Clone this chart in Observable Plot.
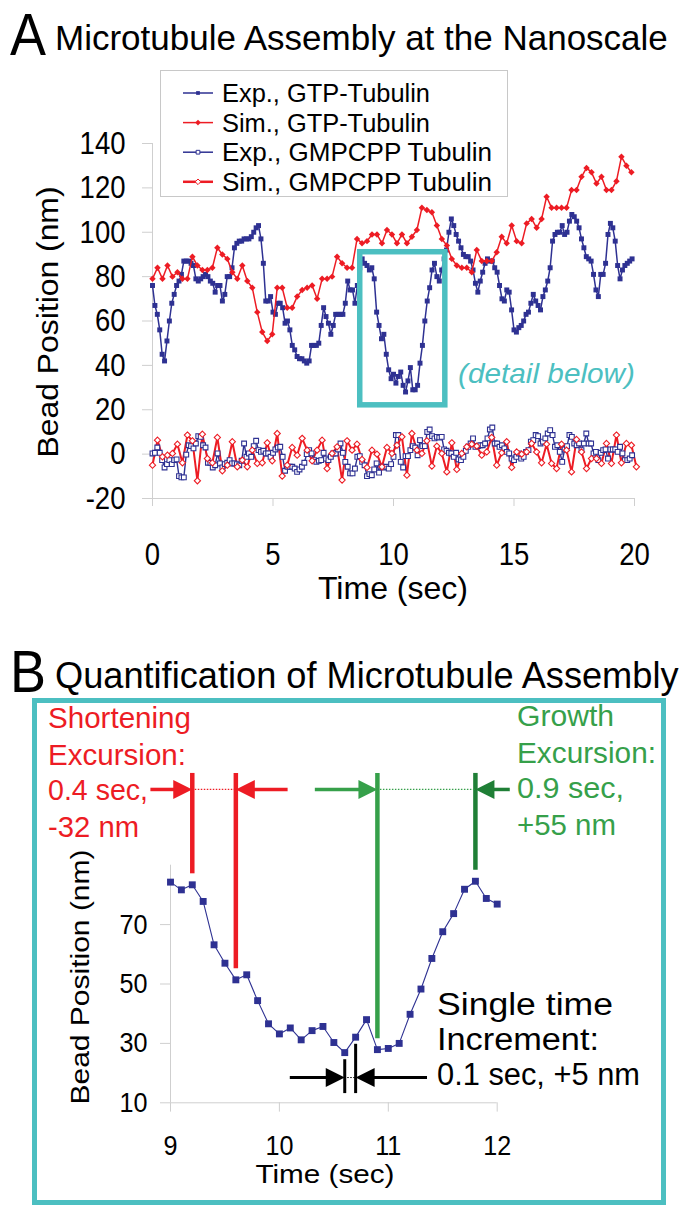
<!DOCTYPE html>
<html><head><meta charset="utf-8">
<script src="https://cdn.jsdelivr.net/npm/d3@7"></script>
<script src="https://cdn.jsdelivr.net/npm/@observablehq/plot@0.6"></script>
<style>
body{margin:0;background:#fff;}
#page{position:relative;width:700px;height:1219px;overflow:hidden;background:#fff;}
</style></head><body><div id="page"></div>
<script>
// ---------------- DATA ----------------
const expStep = 0.1;      // sec per experimental sample
const simStep = 0.207;    // sec per simulation sample
const expGTP = [76,67,63,56,45,42,51,60,68,72, 76,78,81,87,87,87,86,85,79,78, 79,80,81,80,78,77,73,76,76,69, 72,80,80,84,93,95,96,96,97,97,
 97,98,100,102,103,97,86,69,69,71, 64,63,68,68,66,59,60,56,49,47, 44,43,43,42,41,42,49,49,49,50, 58,66,62,59,54,58,63,63,63,63,
 68,78,74,74,68,76,84,88,86,85, 83,84,79,64,58,52,54,45,38,34, 36,32,35,37,31,28,33,39,29,29, 31,41,49,60,69,75,83,86,80,78,
 83,88,92,100,106,103,99,96,93,90, 89,89,87,83,77,73,78,82,86,88, 87,87,84,82,76,70,69,74,73,65, 56,55,57,58,60,63,64,68,72,69,
 67,65,71,74,78,84,96,99,100,100, 103,99,100,105,108,107,105,102,97,93, 89,88,87,81,74,71,81,81,86,99, 104,102,96,85,79,83,85,86,87,88];
const simGTP = [79,84,79,85,80,82,79,79,89,85, 83,83,84,93,90,88,82,79,85,78, 75,64,55,51,54,75,75,66,66,71, 74,75,76,70,79,79,80,89,86,84,
 84,97,95,96,99,99,95,101,99,95, 99,95,98,101,111,110,109,103,97,94, 88,85,84,84,82,92,87,87,87,91, 98,95,103,96,95,104,106,102,106,116,
 111,111,111,111,119,119,125,129,127,122, 125,119,119,123,134,130,127];
const expGMPCPP = [0.3,0.6,3,0.6,-2.7,-6,-4.5,-2.7,-4.5,-2.7, -2.4,-9.9,-10.5,-10.5,-0.2,4,3.6,2.6,4.8,8.1, 7.8,4,3,-3.9,-3.9,-6,-5,0.3,-4.2,-6,
 -4.5,-3.9,-2.7,-4.2,-4.2,-4.5,-5,-3,4.8,-1.2, 0.3,-1.2,3.6,6,1.8,1,1.5,0.3,0.3,-1.2, 0.6,2.1,3,3.3,-1.2,-7.5,-5.7,-5.7,-5.7,-6.5,
 -8,-6.9,-5.7,-3.9,0,1.8,0.3,-2.7,-3.5,-3, -2.7,0.6,-2,-2.7,-1.2,0.3,0.3,2.1,4.8,0.6, -3.5,-5.7,-8.7,-8.7,-6.5,-1.2,-0.9,-3.5,-5,-9.9,
 -9,-9.5,-6.9,-4.2,-8.3,-5.7,-6,-5.7,-6.5,-4.5,
 -1.2,8.6,8.6,-3.5,-6,-0.9,-0.9,1.8,3.6,3, -0.5,6.3,3.6,3.6,10,11.1,8.1,7.1,7.8,7.5, 7.8,2.1,1.5,0.6,0.3,-1.2,0.6,-2.4,-2.7,-1.2,
 1.5,3.3,4.8,7.1,3.3,3.6,4,4,4.8,7.1, 11.1,12,4.8,4.8,3.3,4,2.6,1,0.3,-2, -2.7,-1.2,0.3,-2,-1.2,1,1.8,5.6,6.3,8.6,
 8.1,4.8,5.6,7.1,9.3,10.8,8.6,3.3,4,1, -3.5,2.1,3.6,8.6,7.8,4.8,4,4.8,1.8,4.8, 9.3,4.8,4.8,0.3,1,-2.7,0.6,1.8,2.1,-2,
 2.1,2.1,2.1,1,3.3,0.3,-2.7,-2.7,-2,-0.5];
const simGMPCPP = [-5,6.3,-1.2,-0.5,0.3,4.5,-3.9,8.6,6,-12, 9,-2,-3.9,7.5,-7.5,-5,5.6,-5.7,-2.7,-5.7, 1.8,-4.2,-3.9,5.1,-3,9.3,-9.9,-5,3,-0.5,
 7.1,1.8,-3,1.8,6.3,-6.5,0.3,3.3,-11.7,6, 1.8,4.5,-2.4,-6,1.8,0,-5.7,3,
 0.3,4,7.8,-9.5,9.3,1.8,0.3,6,-5.4,3.6, 0.3,-8,5.1,-6.9,0.3,3.3,4.5,3.6,-0.5,1, 7.5,-5,0.6,5.6,-6,1,0,1,4.8,1,
 -3.9,4.5,-4.2,-6.5,4.5,1.8,-8,6.6,1,-6.5, -2,-2,-4.2,4.8,-4.2,8.6,-3.9,4.8,4,-5.7];
const detailStart = 9.0;
const detailValues = [84.3,81.7,83.4,77.8,63.2,57,51.4,53.1,44.4,36.6,33.2,35.2,31.2,34.3,35.7,30.3,26.9,32.1,38,27.9,28.3,30,39.8,48.3,58.6,67.6,73.7,81.9,84.6,78.8,76.9];
const topXTicks = [0,5,10,15,20];
const topYTicks = [-20,0,20,40,60,80,100,120,140];
const detailXTicks = [9,10,11,12];
const detailYTicks = [10,30,50,70];
const seriesNames = ["Exp., GTP-Tubulin","Sim., GTP-Tubulin","Exp., GMPCPP Tubulin","Sim., GMPCPP Tubulin"];
const detailWindow = [{x1:8.62,x2:12.15,y1:22,y2:91}];
const shortening = {start:9.2,end:9.6,tailL:8.82,tailR:10.08};
const growth = {start:10.9,end:11.8,tailL:10.33,tailR:12.12};
const increment = {start:10.6,end:10.7,tailL:10.1,tailR:11.36};

// ---------------- STYLE ----------------
const BLUE="#2e3192", RED="#ed1c24", TEAL="#4cbfc1", GREEN="#36a04a", DKGREEN="#1f7f36", GRID="#cfcfcf";
const FONT='"Liberation Sans", Arial, Helvetica, sans-serif';
const page=document.getElementById("page");

const toRows=(arr,step,t0=0)=>arr.map((v,i)=>({t:t0+i*step,v}));
const gtpExp=toRows(expGTP,expStep), gtpSim=toRows(simGTP,simStep);
const gmExp=toRows(expGMPCPP,expStep), gmSim=toRows(simGMPCPP,simStep);
const detail=toRows(detailValues,0.1,detailStart);
const valAt=t=>detail.find(d=>Math.abs(d.t-t)<0.01).v;

function condense(svg,f){
  svg.querySelectorAll("text").forEach(t=>{
    const w=t.getComputedTextLength();
    if(w>0){t.setAttribute("textLength",(w*f).toFixed(1));t.setAttribute("lengthAdjust","spacingAndGlyphs");}
  });
}
function place(svg,top){svg.style.position="absolute";svg.style.left="0px";svg.style.top=top+"px";page.appendChild(svg);}

// ---------------- TOP CHART ----------------
const topPlot=Plot.plot({
  width:700,height:600,marginLeft:152,marginRight:66,marginTop:143,marginBottom:102,
  x:{domain:[0,20]},y:{domain:[-20,140]},
  style:{fontFamily:FONT,fontSize:"32px",background:"transparent",overflow:"visible",color:"black"},
  marks:[
    Plot.ruleY([-20],{stroke:GRID}),
    Plot.ruleX([0],{stroke:GRID,y1:-20,y2:140}),
    Plot.axisY({ticks:topYTicks,tickSize:10,tickPadding:17,tickFormat:d=>String(d),label:null,color:"black",stroke:GRID,fontSize:32}),
    Plot.axisX({ticks:topXTicks,tickSize:8,tickPadding:36,tickFormat:d=>String(d),label:null,color:"black",stroke:GRID,fontSize:32}),
    Plot.line(gmExp,{x:"t",y:"v",stroke:BLUE,strokeWidth:1.4}),
    Plot.line(gmSim,{x:"t",y:"v",stroke:RED,strokeWidth:2}),
    Plot.dot(gmExp,{x:"t",y:"v",symbol:"square",r:2.7,fill:"white",stroke:BLUE,strokeWidth:1.1}),
    Plot.dot(gmSim,{x:"t",y:"v",symbol:"diamond2",r:2.8,fill:"white",stroke:RED,strokeWidth:1.1}),
    Plot.line(gtpExp,{x:"t",y:"v",stroke:BLUE,strokeWidth:1.5}),
    Plot.dot(gtpExp,{x:"t",y:"v",symbol:"square",r:2.8,fill:BLUE}),
    Plot.line(gtpSim,{x:"t",y:"v",stroke:RED,strokeWidth:1.5}),
    Plot.dot(gtpSim,{x:"t",y:"v",symbol:"diamond2",r:2.9,fill:RED}),
    Plot.rect(detailWindow,{x1:"x1",x2:"x2",y1:"y1",y2:"y2",fill:"none",stroke:TEAL,strokeWidth:5.5})
  ]
});
place(topPlot,0);
condense(topPlot,0.86);

// ---------------- DETAIL CHART ----------------
const arrowRight={draw(c){c.moveTo(0,0);c.lineTo(-19,-9.5);c.lineTo(-19,9.5);c.closePath();}};
const arrowLeft={draw(c){c.moveTo(0,0);c.lineTo(19,-9.5);c.lineTo(19,9.5);c.closePath();}};
const excTop=120.9, excArrowY=115.5, gap=3.7, incBottom=13.1, incArrowY=18.5;
const excMarks=(e,col1,col2)=>[
  Plot.ruleX([e.start],{x:d=>d,y1:d=>valAt(d)+gap,y2:excTop,stroke:col1,strokeWidth:4.5}),
  Plot.ruleX([e.end],{x:d=>d,y1:d=>valAt(d)+gap,y2:excTop,stroke:col2,strokeWidth:4.5}),
  Plot.ruleY([excArrowY],{x1:e.start,x2:e.end,stroke:col1,strokeWidth:1.2,strokeDasharray:"1.5,1.5"}),
  Plot.ruleY([excArrowY],{x1:e.tailL,x2:e.start-0.1,stroke:col1,strokeWidth:3.5}),
  Plot.ruleY([excArrowY],{x1:e.end+0.1,x2:e.tailR,stroke:col2,strokeWidth:3.5}),
  Plot.dot([e.start],{x:d=>d,y:excArrowY,symbol:arrowRight,fill:col1,r:5}),
  Plot.dot([e.end],{x:d=>d,y:excArrowY,symbol:arrowLeft,fill:col2,r:5})
];
const detailPlot=Plot.plot({
  width:700,height:500,marginLeft:170,marginRight:203.3,marginTop:164.7,marginBottom:97.7,
  x:{domain:[9,12]},y:{domain:[10,90]},
  style:{fontFamily:FONT,fontSize:"28px",background:"transparent",overflow:"visible",color:"black"},
  marks:[
    Plot.ruleY([10],{stroke:GRID}),
    Plot.ruleX([9],{stroke:GRID,y1:10,y2:90}),
    Plot.axisY({ticks:detailYTicks,tickSize:10,tickPadding:13,tickFormat:d=>String(d),label:null,color:"black",stroke:GRID,fontSize:28}),
    Plot.axisX({ticks:detailXTicks,tickSize:9.3,tickPadding:23.4,tickFormat:d=>String(d),label:null,color:"black",stroke:GRID,fontSize:28}),
    ...excMarks(shortening,RED,RED),
    ...excMarks(growth,GREEN,DKGREEN),
    Plot.ruleX([increment.start],{x:d=>d,y1:d=>valAt(d)-2.4,y2:incBottom,stroke:"black",strokeWidth:3}),
    Plot.ruleX([increment.end],{x:d=>d,y1:d=>valAt(d)-2.4,y2:incBottom,stroke:"black",strokeWidth:3}),
    Plot.ruleY([incArrowY],{x1:increment.start,x2:increment.end,stroke:"black",strokeWidth:1,strokeDasharray:"1.5,1.5"}),
    Plot.ruleY([incArrowY],{x1:increment.tailL,x2:increment.start-0.1,stroke:"black",strokeWidth:3}),
    Plot.ruleY([incArrowY],{x1:increment.end+0.1,x2:increment.tailR,stroke:"black",strokeWidth:3}),
    Plot.dot([increment.start],{x:d=>d,y:incArrowY,symbol:arrowRight,fill:"black",r:5}),
    Plot.dot([increment.end],{x:d=>d,y:incArrowY,symbol:arrowLeft,fill:"black",r:5}),
    Plot.line(detail,{x:"t",y:"v",stroke:BLUE,strokeWidth:1.1}),
    Plot.dot(detail,{x:"t",y:"v",symbol:"square",r:3.9,fill:BLUE})
  ]
});
place(detailPlot,700);
condense(detailPlot,0.9);

// ---------------- TEXT / LEGEND OVERLAY ----------------
const box=document.createElement("div");
Object.assign(box.style,{position:"absolute",left:"31.5px",top:"698px",width:"634px",height:"507px",border:"5px solid "+TEAL,boxSizing:"border-box"});
page.appendChild(box);

const ov=d3.create("svg").attr("width",700).attr("height",1219)
  .style("position","absolute").style("left","0px").style("top","0px").style("font-family",FONT);
function txt(s,x,y,size,o={}){
  const t=ov.append("text").attr("x",x).attr("y",y).attr("font-size",size).attr("fill",o.fill||"black").text(s);
  if(o.anchor)t.attr("text-anchor",o.anchor);
  if(o.italic)t.attr("font-style","italic");
  if(o.len)t.attr("textLength",o.len).attr("lengthAdjust","spacingAndGlyphs");
  return t;
}
function vtxt(s,cx,cy,size,sx,o={}){
  const g=ov.append("g").attr("transform",`translate(${cx},${cy}) scale(${sx},1) rotate(-90)`);
  g.append("text").attr("x",0).attr("y",size*0.36).attr("text-anchor","middle").attr("font-size",size).attr("fill","black")
    .attr("textLength",o.len).attr("lengthAdjust","spacingAndGlyphs").text(s);
}
// panel A
txt("A",10,55,60,{len:36});
txt("Microtubule Assembly at the Nanoscale",55,50,35);
vtxt("Bead Position (nm)",48,322,32,0.9,{len:271});
txt("Time (sec)",393,599,32,{anchor:"middle",len:150});
txt("(detail below)",458,383,28,{italic:true,fill:TEAL,len:177});
// legend
ov.append("rect").attr("x",160.5).attr("y",70.5).attr("width",347).attr("height",126).attr("fill","white").attr("stroke","#c8c8c8");
const legendStyle=[
  {stroke:BLUE,lw:1.5,sym:d3.symbolSquare,size:14,fill:BLUE,sw:0},
  {stroke:RED,lw:1.5,sym:d3.symbolDiamond2,size:20,fill:RED,sw:0},
  {stroke:BLUE,lw:1.5,sym:d3.symbolSquare,size:14,fill:"white",sw:1},
  {stroke:RED,lw:2.5,sym:d3.symbolDiamond2,size:20,fill:"white",sw:1}
];
const legendLen=[208,208,270,270];
seriesNames.forEach((name,i)=>{
  const cy=93+i*29.6, st=legendStyle[i];
  ov.append("line").attr("x1",183).attr("x2",213).attr("y1",cy).attr("y2",cy).attr("stroke",st.stroke).attr("stroke-width",st.lw);
  ov.append("path").attr("transform",`translate(198,${cy})`).attr("d",d3.symbol(st.sym,st.size)())
    .attr("fill",st.fill).attr("stroke",st.stroke).attr("stroke-width",st.sw);
  txt(name,222,cy+9,25,{len:legendLen[i]});
});
// panel B
txt("B",10,692,60,{len:36});
txt("Quantification of Microtubule Assembly",55,688,36.2);
vtxt("Bead Position (nm)",80,977,28,0.9,{len:255});
txt("Time (sec)",325,1183,25,{anchor:"middle",len:139});
[["Shortening",728,143],["Excursion:",765,138],["0.4 sec,",800,100],["-32 nm",837,91]].forEach(([s,y,l])=>txt(s,48,y,29,{fill:RED,len:l}));
[["Growth",726,97],["Excursion:",763,139],["0.9 sec,",798,107],["+55 nm",835,99]].forEach(([s,y,l])=>txt(s,517,y,29,{fill:GREEN,len:l}));
[["Single time",1015,176],["Increment:",1050,162],["0.1 sec, +5 nm",1085,203]].forEach(([s,y,l])=>txt(s,437,y,31,{len:l}));
page.appendChild(ov.node());
</script></body></html>
